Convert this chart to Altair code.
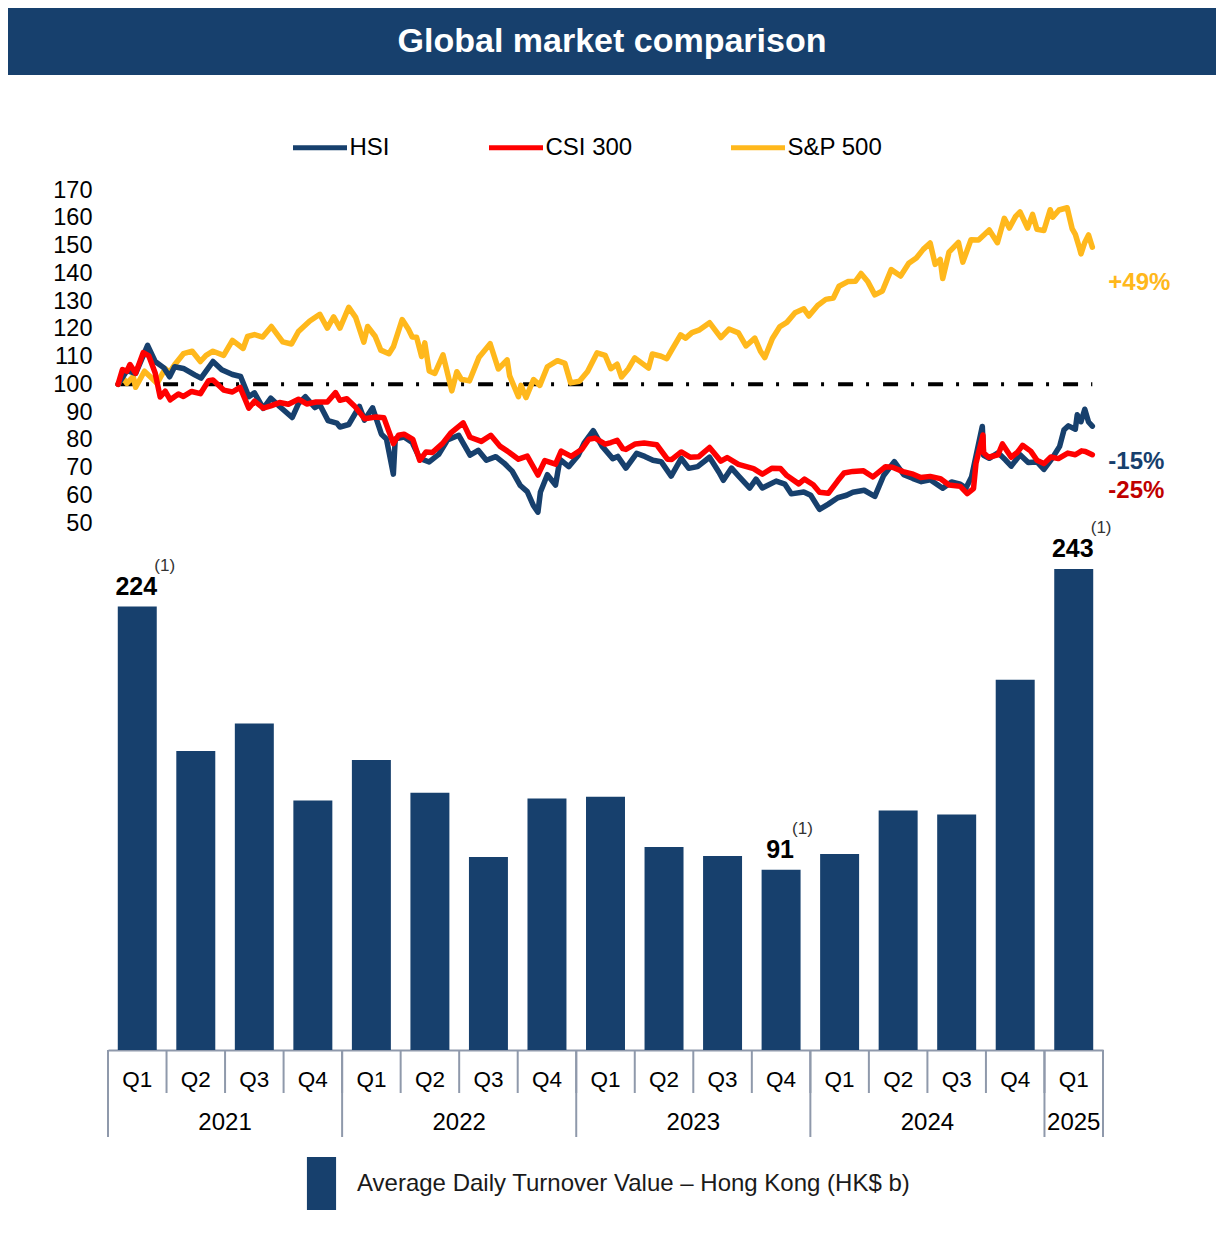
import altair as alt
import pandas as pd

# ---------------- data ----------------
title_text = "Global market comparison"
series_names = ["HSI", "CSI 300", "S&P 500"]

hsi_dates = ["2021-01-01", "2021-01-15", "2021-01-29", "2021-02-17", "2021-03-01", "2021-03-15", "2021-03-24",
             "2021-04-01", "2021-04-15", "2021-05-03", "2021-05-13", "2021-06-01", "2021-06-15", "2021-07-02",
             "2021-07-15", "2021-07-28", "2021-08-06", "2021-08-20", "2021-09-01", "2021-09-15", "2021-10-05",
             "2021-10-15", "2021-10-26", "2021-11-10", "2021-11-18", "2021-12-01", "2021-12-15", "2021-12-20",
             "2022-01-03", "2022-01-20", "2022-01-28", "2022-02-10", "2022-02-24", "2022-03-04", "2022-03-15",
             "2022-03-18", "2022-04-01", "2022-04-14", "2022-04-26", "2022-05-11", "2022-05-26", "2022-06-09",
             "2022-06-27", "2022-07-15", "2022-07-28", "2022-08-10", "2022-08-25", "2022-09-07", "2022-09-20",
             "2022-10-03", "2022-10-14", "2022-10-24", "2022-10-31", "2022-11-04", "2022-11-15", "2022-11-28",
             "2022-12-05", "2022-12-19", "2023-01-03", "2023-01-13", "2023-01-27", "2023-02-10", "2023-02-27",
             "2023-03-07", "2023-03-20", "2023-04-06", "2023-04-19", "2023-05-02", "2023-05-15", "2023-05-31",
             "2023-06-16", "2023-06-28", "2023-07-12", "2023-07-31", "2023-08-15", "2023-08-22", "2023-09-04",
             "2023-09-15", "2023-10-03", "2023-10-13", "2023-10-23", "2023-11-14", "2023-11-28", "2023-12-08",
             "2023-12-28", "2024-01-08", "2024-01-22", "2024-02-05", "2024-02-20", "2024-03-05", "2024-03-15",
             "2024-04-02", "2024-04-19", "2024-05-03", "2024-05-20", "2024-06-04", "2024-06-18", "2024-07-02",
             "2024-07-16", "2024-08-05", "2024-08-19", "2024-09-02", "2024-09-11", "2024-09-20", "2024-09-26",
             "2024-10-07", "2024-10-09", "2024-10-18", "2024-11-01", "2024-11-13", "2024-11-22", "2024-12-06",
             "2024-12-19", "2025-01-02", "2025-01-13", "2025-01-27", "2025-02-07", "2025-02-14", "2025-02-21",
             "2025-03-04", "2025-03-07", "2025-03-13", "2025-03-19", "2025-03-25", "2025-03-31"]
hsi_values = [100.0, 104.9, 103.9, 114.0, 108.2, 105.9, 102.7,
              106.3, 105.7, 103.4, 102.2, 108.2, 105.2, 103.5,
              102.8, 95.5, 96.9, 91.3, 95.0, 92.0, 88.0,
              93.0, 95.5, 91.6, 92.6, 86.9, 86.0, 84.6,
              85.5, 92.0, 87.1, 91.5, 82.0, 80.3, 67.6,
              80.3, 81.0, 79.0, 73.3, 72.0, 74.7, 79.9,
              81.6, 74.5, 76.2, 72.6, 73.9, 71.6, 68.7,
              63.5, 61.3, 56.2, 53.9, 61.2, 67.4, 63.7,
              72.9, 70.3, 74.3, 79.0, 83.3, 77.7, 73.2,
              74.0, 69.8, 75.1, 74.0, 72.6, 72.1, 66.9,
              73.3, 69.7, 70.3, 73.7, 68.3, 65.4, 69.8,
              67.0, 62.6, 65.8, 62.6, 65.1, 64.0, 60.5,
              61.2, 60.0, 54.9, 56.8, 59.1, 60.0, 61.1,
              61.8, 59.6, 67.1, 72.1, 67.4, 66.1, 64.9,
              65.6, 62.5, 64.8, 64.0, 62.6, 66.7, 73.1,
              84.8, 74.4, 73.3, 75.3, 72.7, 70.5, 74.6,
              71.8, 72.0, 69.3, 73.6, 77.6, 83.6, 85.0,
              83.8, 89.0, 86.5, 91.0, 86.4, 84.9]

csi_dates = ["2021-01-01", "2021-01-08", "2021-01-15", "2021-01-20", "2021-01-29", "2021-02-10", "2021-02-19",
             "2021-03-01", "2021-03-09", "2021-03-17", "2021-03-25", "2021-04-07", "2021-04-15", "2021-04-28",
             "2021-05-12", "2021-05-25", "2021-06-01", "2021-06-18", "2021-07-02", "2021-07-14", "2021-07-28",
             "2021-08-06", "2021-08-20", "2021-09-01", "2021-09-15", "2021-09-29", "2021-10-15", "2021-10-28",
             "2021-11-12", "2021-11-30", "2021-12-13", "2021-12-20", "2021-12-31", "2022-01-12", "2022-01-28",
             "2022-02-15", "2022-02-28", "2022-03-15", "2022-03-23", "2022-04-01", "2022-04-15", "2022-04-26",
             "2022-05-06", "2022-05-16", "2022-06-01", "2022-06-15", "2022-07-04", "2022-07-15", "2022-08-02",
             "2022-08-17", "2022-09-01", "2022-09-15", "2022-09-30", "2022-10-14", "2022-10-31", "2022-11-11",
             "2022-11-28", "2022-12-07", "2022-12-23", "2023-01-09", "2023-01-20", "2023-01-30", "2023-02-15",
             "2023-02-24", "2023-03-06", "2023-03-15", "2023-03-20", "2023-04-04", "2023-04-18", "2023-05-08",
             "2023-05-25", "2023-06-01", "2023-06-16", "2023-06-30", "2023-07-14", "2023-07-31", "2023-08-18",
             "2023-08-28", "2023-09-15", "2023-10-09", "2023-10-23", "2023-11-07", "2023-11-21", "2023-12-01",
             "2023-12-20", "2023-12-29", "2024-01-12", "2024-01-22", "2024-02-05", "2024-02-20", "2024-03-01",
             "2024-03-15", "2024-04-01", "2024-04-16", "2024-05-06", "2024-05-17", "2024-06-03", "2024-06-19",
             "2024-07-01", "2024-07-16", "2024-08-01", "2024-08-15", "2024-09-02", "2024-09-13", "2024-09-23",
             "2024-09-27", "2024-10-08", "2024-10-09", "2024-10-17", "2024-11-01", "2024-11-08", "2024-11-22",
             "2024-12-02", "2024-12-10", "2024-12-23", "2025-01-02", "2025-01-13", "2025-01-24", "2025-02-05",
             "2025-02-20", "2025-03-04", "2025-03-14", "2025-03-20", "2025-03-31"]
csi_values = [100.0, 105.3, 104.7, 107.1, 104.0, 111.4, 110.2,
              104.1, 95.4, 97.5, 94.4, 96.5, 95.6, 97.4,
              96.6, 101.3, 101.5, 97.9, 97.2, 98.9, 91.4,
              93.9, 91.4, 92.2, 93.4, 92.8, 94.6, 92.9,
              93.6, 93.6, 97.0, 94.2, 94.8, 92.2, 87.6,
              88.2, 87.9, 78.6, 81.6, 82.0, 80.1, 72.6,
              75.6, 75.4, 78.6, 82.6, 86.1, 80.9, 79.4,
              81.6, 77.6, 75.5, 73.0, 74.1, 67.3, 72.5,
              71.2, 75.9, 74.0, 76.6, 80.2, 80.6, 78.4,
              79.0, 79.8, 76.8, 76.5, 78.5, 78.8, 78.2,
              73.0, 72.9, 75.6, 73.7, 73.9, 77.2, 72.3,
              73.6, 71.1, 69.6, 67.6, 69.7, 69.6, 67.1,
              64.1, 65.8, 63.8, 61.1, 60.7, 65.2, 68.0,
              68.6, 68.8, 66.6, 70.3, 70.1, 68.5, 67.6,
              66.4, 66.8, 66.0, 63.7, 63.2, 60.6, 62.4,
              71.6, 81.7, 75.3, 73.7, 74.6, 78.5, 73.7,
              75.5, 78.0, 75.9, 72.6, 71.4, 73.8, 73.2,
              75.2, 74.6, 76.0, 75.8, 74.6]

spx_dates = ["2021-01-01", "2021-01-08", "2021-01-15", "2021-01-25", "2021-01-29", "2021-02-12", "2021-02-25",
             "2021-03-04", "2021-03-17", "2021-03-24", "2021-04-01", "2021-04-15", "2021-04-29", "2021-05-12",
             "2021-05-21", "2021-06-01", "2021-06-18", "2021-07-02", "2021-07-19", "2021-07-26", "2021-08-06",
             "2021-08-19", "2021-09-02", "2021-09-20", "2021-10-04", "2021-10-15", "2021-11-02", "2021-11-18",
             "2021-11-30", "2021-12-10", "2021-12-20", "2022-01-03", "2022-01-14", "2022-01-27", "2022-02-02",
             "2022-02-14", "2022-02-23", "2022-03-08", "2022-03-15", "2022-03-29", "2022-04-08", "2022-04-14",
             "2022-04-21", "2022-04-29", "2022-05-04", "2022-05-11", "2022-05-20", "2022-06-02", "2022-06-16",
             "2022-06-24", "2022-07-01", "2022-07-14", "2022-07-29", "2022-08-16", "2022-08-29", "2022-09-12",
             "2022-09-16", "2022-09-30", "2022-10-04", "2022-10-12", "2022-10-24", "2022-11-03", "2022-11-15",
             "2022-12-01", "2022-12-13", "2022-12-22", "2023-01-05", "2023-01-18", "2023-02-02", "2023-02-15",
             "2023-02-24", "2023-03-06", "2023-03-13", "2023-03-24", "2023-04-03", "2023-04-25", "2023-05-01",
             "2023-05-15", "2023-05-24", "2023-06-01", "2023-06-15", "2023-06-23", "2023-07-03", "2023-07-14",
             "2023-07-31", "2023-08-18", "2023-08-31", "2023-09-15", "2023-09-27", "2023-10-11", "2023-10-20",
             "2023-10-27", "2023-11-08", "2023-11-20", "2023-12-01", "2023-12-14", "2023-12-28", "2024-01-05",
             "2024-01-19", "2024-02-01", "2024-02-13", "2024-02-22", "2024-03-07", "2024-03-19", "2024-03-28",
             "2024-04-08", "2024-04-19", "2024-05-01", "2024-05-15", "2024-05-30", "2024-06-12", "2024-06-24",
             "2024-07-05", "2024-07-16", "2024-07-24", "2024-08-01", "2024-08-05", "2024-08-15", "2024-08-30",
             "2024-09-06", "2024-09-19", "2024-10-01", "2024-10-18", "2024-10-31", "2024-11-11", "2024-11-19",
             "2024-11-29", "2024-12-06", "2024-12-18", "2024-12-26", "2025-01-02", "2025-01-13", "2025-01-23",
             "2025-01-27", "2025-02-06", "2025-02-19", "2025-02-27", "2025-03-04", "2025-03-10", "2025-03-13",
             "2025-03-19", "2025-03-25", "2025-03-31"]
spx_values = [100.0, 102.6, 100.3, 102.8, 98.9, 104.7, 101.9,
              100.3, 105.6, 104.3, 107.0, 111.0, 111.9, 108.2,
              110.4, 111.9, 110.4, 115.8, 112.9, 117.2, 117.9,
              117.0, 120.8, 115.3, 114.5, 119.0, 122.8, 125.2,
              120.2, 124.3, 120.2, 127.7, 124.1, 115.2, 120.8,
              117.3, 112.3, 111.0, 113.5, 123.3, 119.8, 117.0,
              116.9, 110.0, 114.9, 104.8, 103.9, 110.6, 97.6,
              104.5, 101.8, 101.2, 109.6, 114.6, 105.5, 108.8,
              103.0, 95.5, 99.6, 95.2, 101.7, 99.6, 106.3,
              108.5, 107.5, 100.5, 101.1, 104.6, 111.3, 110.4,
              105.6, 107.2, 102.6, 105.6, 109.5, 105.8, 110.9,
              110.1, 109.2, 112.4, 117.8, 116.6, 118.6, 119.5,
              122.2, 116.8, 119.9, 118.5, 113.8, 116.6, 111.9,
              109.6, 116.5, 120.8, 122.3, 125.8, 127.2, 124.6,
              128.4, 130.6, 131.1, 135.3, 137.0, 137.1, 139.9,
              136.9, 132.2, 133.6, 141.3, 139.0, 143.6, 145.5,
              148.6, 150.9, 143.2, 145.0, 138.1, 147.6, 151.1,
              144.0, 152.1, 152.0, 155.6, 151.0, 159.8, 156.3,
              160.5, 162.1, 156.3, 161.2, 155.8, 155.4, 162.9,
              160.2, 162.8, 163.6, 156.0, 154.0, 149.5, 147.0,
              151.1, 153.8, 149.4]

y_ticks = [50, 60, 70, 80, 90, 100, 110, 120, 130, 140, 150, 160, 170]
change_labels = ["+49%", "-15%", "-25%"]

quarters = ["2021 Q1", "2021 Q2", "2021 Q3", "2021 Q4",
            "2022 Q1", "2022 Q2", "2022 Q3", "2022 Q4",
            "2023 Q1", "2023 Q2", "2023 Q3", "2023 Q4",
            "2024 Q1", "2024 Q2", "2024 Q3", "2024 Q4",
            "2025 Q1"]
turnover = [224, 151, 165, 126, 146.5, 130, 97.5, 127, 128, 102.5, 98, 91, 99, 121, 119, 187, 243]
bar_labels = ["224", "", "", "", "", "", "", "", "", "", "", "91", "", "", "", "", "243"]
bar_notes = ["(1)", "", "", "", "", "", "", "", "", "", "", "(1)", "", "", "", "", "(1)"]
years = ["2021", "2022", "2023", "2024", "2025"]
bar_series = "Average Daily Turnover Value \u2013 Hong Kong (HK$ b)"

# ---------------- style / layout ----------------
NAVY = "#17406D"
RED = "#FF0000"
GOLD = "#FFB81C"
DARKRED = "#C00000"
GREY = "#8F99AB"
FONT = "Liberation Sans"
W = 995
H_LINE = 333
H_BAR = 520
label_y = {"+49%": 136.4, "-15%": 71.9, "-25%": 61.4}
label_color = {"+49%": GOLD, "-15%": NAVY, "-25%": DARKRED}

# ---------------- line chart ----------------
line_df = pd.concat([
    pd.DataFrame({"series": "S&P 500", "date": spx_dates, "value": spx_values}),
    pd.DataFrame({"series": "HSI", "date": hsi_dates, "value": hsi_values}),
    pd.DataFrame({"series": "CSI 300", "date": csi_dates, "value": csi_values}),
], ignore_index=True)

x_time = alt.Scale(domain=[alt.DateTime(year=2020, month=12, date=16, utc=True),
                           alt.DateTime(year=2025, month=4, date=17, utc=True)], nice=False)
y_idx_scale = alt.Scale(domain=[50, 170], nice=False, zero=False)
y_idx_axis = alt.Axis(values=y_ticks, ticks=False, domain=False, grid=False, labelFontSize=23.5,
                      labelColor="black", labelPadding=16, title=None)

title_df = pd.DataFrame({"t": [title_text]})
banner = alt.Chart(title_df).mark_rect(color=NAVY).encode(
    x=alt.value(-100), x2=alt.value(1108), y=alt.value(-182), y2=alt.value(-115))
title = alt.Chart(title_df).mark_text(fontSize=34, fontWeight="bold", color="white",
                                      align="center", baseline="middle").encode(
    x=alt.value(504), y=alt.value(-148), text="t:N")

ref_df = pd.DataFrame({"date": [hsi_dates[0]], "date2": [hsi_dates[-1]], "value": [100]})
ref = alt.Chart(ref_df).mark_rule(color="black", strokeWidth=4, strokeDash=[15, 13, 3, 14]).encode(
    x=alt.X("date:T", scale=x_time, axis=None), x2="date2:T",
    y=alt.Y("value:Q", scale=y_idx_scale, axis=y_idx_axis))

lines = alt.Chart(line_df).mark_line(strokeWidth=5.5, strokeJoin="round", strokeCap="round").encode(
    x=alt.X("date:T", scale=x_time, axis=None),
    y=alt.Y("value:Q", scale=y_idx_scale, axis=y_idx_axis),
    color=alt.Color("series:N", scale=alt.Scale(domain=series_names, range=[NAVY, RED, GOLD]),
                    legend=alt.Legend(orient="none", legendX=182.5, legendY=-72, direction="horizontal",
                                      title=None, symbolType="stroke", symbolSize=2916,
                                      symbolStrokeWidth=5, labelFontSize=24, labelColor="black",
                                      labelOffset=0, columnPadding=88, padding=0, labelLimit=1000)),
)

label_layers = []
for lab in change_labels:
    d = pd.DataFrame({"date": [hsi_dates[-1]], "value": [label_y[lab]], "text": [lab]})
    label_layers.append(
        alt.Chart(d).mark_text(align="left", baseline="middle", dx=16, fontSize=24, fontWeight="bold",
                               color=label_color[lab]).encode(
            x=alt.X("date:T", scale=x_time, axis=None),
            y=alt.Y("value:Q", scale=y_idx_scale, axis=y_idx_axis),
            text="text:N"))

line_chart = alt.layer(banner, title, ref, lines, *label_layers).properties(width=W, height=H_LINE)

# ---------------- bar chart ----------------
bar_df = pd.DataFrame({"quarter": quarters, "turnover": turnover, "label": bar_labels,
                       "note": bar_notes, "series": bar_series})
xq = alt.Scale(domain=quarters, paddingInner=0, paddingOuter=0)
xq_axis = alt.Axis(title=None, labelExpr="split(datum.label, ' ')[1]", labelAngle=0, labelFontSize=22.5,
                   labelColor="black", labelBaseline="middle", labelPadding=29, ticks=False,
                   domainColor=GREY, domainWidth=2, grid=False)
y_bar = alt.Scale(domain=[0, 262.7], nice=False)

bars = alt.Chart(bar_df).mark_bar(width=alt.RelativeBandSize(band=0.666)).encode(
    x=alt.X("quarter:N", scale=xq, axis=xq_axis),
    y=alt.Y("turnover:Q", scale=y_bar, axis=None),
    color=alt.Color("series:N", scale=alt.Scale(domain=[bar_series], range=[NAVY]),
                    legend=alt.Legend(orient="none", legendX=187, legendY=627, title=None,
                                      symbolType="M-0.55,-1H0.55V1H-0.55Z", symbolSize=2809,
                                      symbolStrokeWidth=0, symbolOpacity=1, labelFontSize=24,
                                      labelColor="#1a1a1a", labelOffset=9, labelLimit=1000, padding=0)),
)

qrules = alt.Chart(bar_df).mark_rule(color=GREY, strokeWidth=2).encode(
    x=alt.X("quarter:N", scale=xq, axis=xq_axis, bandPosition=0),
    y=alt.value(H_BAR), y2=alt.value(H_BAR + 43))

year_df = pd.DataFrame({
    "year": years,
    "first": [next(q for q in quarters if q.startswith(y)) for y in years],
    "n": [sum(1 for q in quarters if q.startswith(y)) for y in years],
})
year_df["mid"] = [y + " Q3" if n == 4 else y + " Q1" for y, n in zip(year_df["year"], year_df["n"])]

yrules = alt.Chart(year_df).mark_rule(color=GREY, strokeWidth=2).encode(
    x=alt.X("first:N", scale=xq, axis=xq_axis, bandPosition=0),
    y=alt.value(H_BAR), y2=alt.value(H_BAR + 87))
end_rule = alt.Chart(pd.DataFrame({"quarter": [quarters[-1]]})).mark_rule(color=GREY, strokeWidth=2).encode(
    x=alt.X("quarter:N", scale=xq, axis=xq_axis, bandPosition=1),
    y=alt.value(H_BAR), y2=alt.value(H_BAR + 87))

ylab_full = alt.Chart(year_df).transform_filter("datum.n == 4").mark_text(
    fontSize=24, color="black", baseline="middle", align="center").encode(
    x=alt.X("mid:N", scale=xq, axis=xq_axis, bandPosition=0),
    y=alt.value(H_BAR + 73), text="year:N")
ylab_part = alt.Chart(year_df).transform_filter("datum.n < 4").mark_text(
    fontSize=24, color="black", baseline="middle", align="center").encode(
    x=alt.X("mid:N", scale=xq, axis=xq_axis, bandPosition=0.5),
    y=alt.value(H_BAR + 73), text="year:N")

vals = alt.Chart(bar_df).transform_filter("datum.label != ''").mark_text(
    fontSize=25, fontWeight="bold", color="black", baseline="alphabetic", align="center", dy=-12, dx=-1).encode(
    x=alt.X("quarter:N", scale=xq, axis=xq_axis),
    y=alt.Y("turnover:Q", scale=y_bar, axis=None), text="label:N")
notes3 = alt.Chart(bar_df).transform_filter("datum.note != '' && length(datum.label) == 3").mark_text(
    fontSize=17, color="#333333", baseline="middle", align="left", dx=17, dy=-41).encode(
    x=alt.X("quarter:N", scale=xq, axis=xq_axis),
    y=alt.Y("turnover:Q", scale=y_bar, axis=None), text="note:N")
notes2 = alt.Chart(bar_df).transform_filter("datum.note != '' && length(datum.label) == 2").mark_text(
    fontSize=17, color="#333333", baseline="middle", align="left", dx=11, dy=-41).encode(
    x=alt.X("quarter:N", scale=xq, axis=xq_axis),
    y=alt.Y("turnover:Q", scale=y_bar, axis=None), text="note:N")

bar_chart = alt.layer(bars, qrules, yrules, end_rule, ylab_full, ylab_part, vals, notes3, notes2).properties(
    width=W, height=H_BAR)

chart = (
    alt.vconcat(line_chart, bar_chart, spacing=7, bounds="flush")
    .resolve_scale(color="independent")
    .properties(padding=0, background="white")
    .configure(font=FONT)
    .configure_view(stroke=None)
)

chart.save("out.html", embed_options={"renderer": "svg", "actions": False})
